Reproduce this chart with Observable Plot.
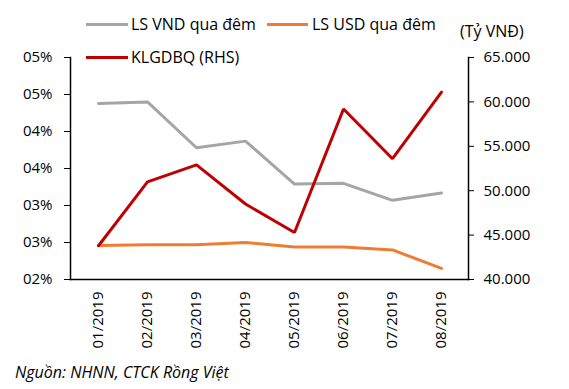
<!DOCTYPE html>
<html><head><meta charset="utf-8">
<script src="https://cdn.jsdelivr.net/npm/d3@7"></script>
<script src="https://cdn.jsdelivr.net/npm/@observablehq/plot@0.6"></script>
<style>
body{margin:0;background:#fff;font-family:"Open Sans",sans-serif;}
#wrap{position:relative;width:569px;height:389px;}
.lg{position:absolute;font-size:16px;color:#000;white-space:nowrap;line-height:1;}
.sw{position:absolute;height:3px;}
</style></head>
<body><div id="wrap"></div>
<script>
const months = ["01/2019","02/2019","03/2019","04/2019","05/2019","06/2019","07/2019","08/2019"];
const vndRate = [4.38, 4.40, 3.78, 3.87, 3.29, 3.30, 3.07, 3.17];
const usdRate = [2.46, 2.47, 2.47, 2.50, 2.44, 2.44, 2.40, 2.15];
const volume = [43800, 51000, 52900, 48500, 45300, 59200, 53600, 61100];
const leftTicks = [2, 2.5, 3, 3.5, 4, 4.5, 5];
const rightTicks = [40000, 45000, 50000, 55000, 60000, 65000];
const seriesNames = ["LS VND qua đêm", "LS USD qua đêm", "KLGDBQ (RHS)"];
const colors = ["#A5A5A5", "#ED7D31", "#C00000"];

const toLeft = v => 2 + (v - 40000) / 25000 * 3;
const fromLeft = y => Math.round((y - 2) / 3 * 25000 + 40000);
const fmtRight = v => { const s = String(v); return s.slice(0, s.length-3) + "." + s.slice(-3); };

const rows = [];
months.forEach((m,i) => {
  rows.push({m, s: seriesNames[0], y: vndRate[i]});
  rows.push({m, s: seriesNames[1], y: usdRate[i]});
  rows.push({m, s: seriesNames[2], y: toLeft(volume[i])});
});

const chart = Plot.plot({
  width: 569, height: 389,
  marginLeft: 70, marginRight: 101, marginTop: 57, marginBottom: 110,
  style: {fontSize: "15px", fontFamily: "'Open Sans', sans-serif", color: "#000", background: "#fff"},
  x: {type: "point", domain: months, padding: 0.5},
  y: {domain: [2, 5]},
  color: {domain: seriesNames, range: colors},
  marks: [
    Plot.axisX({tickRotate: -90, tickSize: 0, tickPadding: 12, label: null}),
    Plot.axisY({ticks: leftTicks, tickFormat: d => String(Math.round(d)).padStart(2, "0") + "%", tickSize: 6, tickPadding: 12, label: null}),
    Plot.axisY({anchor: "right", ticks: rightTicks.map(toLeft), tickFormat: d => fmtRight(fromLeft(d)), tickSize: 5, tickPadding: 10, label: null}),
    Plot.frame({anchor: "left", stroke: "#000", strokeWidth: 1.5}),
    Plot.frame({anchor: "right", stroke: "#000", strokeWidth: 1.5}),
    Plot.frame({anchor: "bottom", stroke: "#000", strokeWidth: 1.5}),
    Plot.line(rows, {x: "m", y: "y", z: "s", stroke: "s", strokeWidth: 3, strokeLinejoin: "miter"})
  ]
});
const wrap = document.getElementById("wrap");
wrap.appendChild(chart);

function add(html){ wrap.insertAdjacentHTML("beforeend", html); }
add(`<div class="sw" style="left:86px;top:23px;width:42px;background:${colors[0]}"></div>`);
add(`<div class="lg" style="left:131px;top:16px">${seriesNames[0]}</div>`);
add(`<div class="sw" style="left:267px;top:23px;width:41px;background:${colors[1]}"></div>`);
add(`<div class="lg" style="left:312px;top:16px">${seriesNames[1]}</div>`);
add(`<div class="sw" style="left:86px;top:56px;width:42px;background:${colors[2]}"></div>`);
add(`<div class="lg" style="left:131px;top:49px">${seriesNames[2]}</div>`);
add(`<div class="lg" style="left:460px;top:22.5px">(Tỷ VNĐ)</div>`);
add(`<div class="lg" style="left:15px;top:364px;font-style:italic">Nguồn: NHNN, CTCK Rồng Việt</div>`);
</script></body></html>
